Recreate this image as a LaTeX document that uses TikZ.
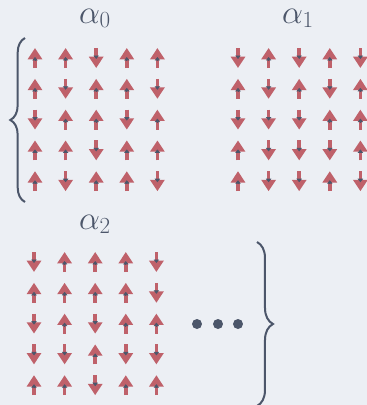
\documentclass[tikz,border=0pt]{standalone}
\usepackage{tikz}
\usetikzlibrary{arrows.meta,decorations.pathreplacing}

\definecolor{bgpaper}{HTML}{ECEFF4}
\definecolor{spinred}{HTML}{BF616A}
\definecolor{slate}{HTML}{4C566A}

% one 5x5 lattice of spins, #1,#2 = first site, #3 = rows of +1/-1
\newcommand{\spinlattice}[3]{%
  \foreach \row [count=\r] in {#3} {
    \foreach \s [count=\c] in \row {
      \draw[spin] ({#1+30.6*(\c-1)}, {#2+30.8*(\r-1)+10*\s}) -- ++(0,{-20*\s});
      \draw[core] ({#1+30.6*(\c-1)}, {#2+30.8*(\r-1)+2*\s}) -- ++(0,{-3*\s});
    }
  }%
}

\begin{document}
\begin{tikzpicture}[
  x=0.75pt, y=-0.75pt,
  spin/.style={draw=spinred, line width=2.6pt, -{Triangle[width=10.5pt,length=8.5pt]}},
  core/.style={draw=slate, line width=0.6pt, -{Triangle[width=4pt,length=2.6pt]}},
  lbl/.style={text=slate, anchor=base, inner sep=0pt, font=\fontsize{23}{26}\selectfont},
  brc/.style={draw=slate, line width=1.5pt, decorate, decoration={brace, amplitude=#1}},
  dot/.style={circle, fill=slate, inner sep=0pt, minimum size=7.5pt}
]
\fill[bgpaper] (0,0) rectangle (367,405);
\useasboundingbox (0,0) rectangle (367,405);

\node[lbl] (a0) at (95,23) {$\alpha_0$};
\node[lbl] (a1) at (298,23) {$\alpha_1$};
\node[lbl] (a2) at (95,229) {$\alpha_2$};

\spinlattice{35}{58}{{1,1,-1,1,1},{1,-1,1,1,-1},{-1,1,1,-1,1},{1,1,-1,1,1},{1,-1,1,1,-1}}
\spinlattice{238}{58}{{-1,1,-1,1,-1},{1,-1,1,-1,1},{-1,-1,-1,1,1},{1,-1,-1,-1,1},{1,-1,-1,1,-1}}
\spinlattice{34}{262}{{-1,1,1,1,-1},{1,1,1,1,-1},{-1,1,-1,1,1},{-1,-1,1,-1,-1},{1,1,-1,1,1}}

\node[dot] (d1) at (197,324) {};
\node[dot] (d2) at (218,324) {};
\node[dot] (d3) at (238,324) {};

\coordinate (lb1) at (25,202);
\coordinate (lb2) at (25,38);
\coordinate (rb1) at (257,242);
\coordinate (rb2) at (257,406);
\draw[brc=11pt] (lb1) -- (lb2);
\draw[brc=12pt] (rb1) -- (rb2);
\end{tikzpicture}
\end{document}
